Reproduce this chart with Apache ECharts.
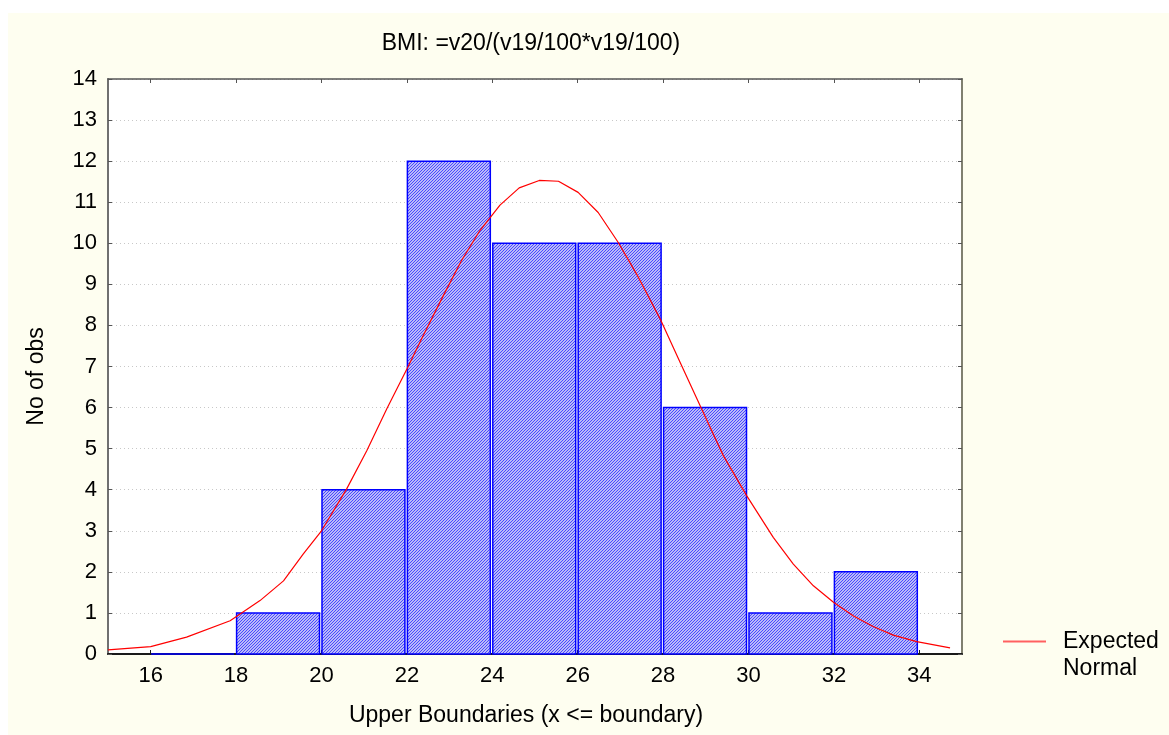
<!DOCTYPE html>
<html>
<head>
<meta charset="utf-8">
<script src="https://cdn.jsdelivr.net/npm/echarts@6/dist/echarts.min.js"></script>
<style>
html,body{margin:0;padding:0;background:#ffffff;width:1169px;height:735px;overflow:hidden;}
#chart{position:absolute;left:8px;top:13px;width:1161px;height:722px;}
</style>
</head>
<body>
<div id="chart"></div>
<script>
// ---- data ----
var titleText = 'BMI: =v20/(v19/100*v19/100)';
var xName = 'Upper Boundaries (x <= boundary)';
var yName = 'No of obs';
var legendName = 'Expected Normal';
var binLo = [16, 18, 20, 22, 24, 26, 28, 30, 32];
var binHi = [18, 20, 22, 24, 26, 28, 30, 32, 34];
var counts = [0, 1, 4, 12, 10, 10, 6, 1, 2];
var xTicks = [16, 18, 20, 22, 24, 26, 28, 30, 32, 34];
var curveX = [15.0, 16.0, 16.84, 17.86, 18.56, 19.11, 19.57, 20.0, 20.59, 21.06, 21.53, 22.0, 22.38, 22.85, 23.28, 23.71, 24.18, 24.63, 25.1, 25.55, 26.01, 26.48, 26.95, 27.38, 27.93, 28.40, 28.90, 29.41, 29.96, 30.58, 31.05, 31.52, 31.99, 32.45, 32.92, 33.39, 33.94, 34.72];
var curveY = [0.10, 0.18, 0.41, 0.81, 1.30, 1.78, 2.43, 3.00, 4.02, 4.95, 5.97, 6.94, 7.75, 8.72, 9.58, 10.31, 10.93, 11.35, 11.53, 11.51, 11.24, 10.75, 10.02, 9.25, 8.16, 7.10, 5.97, 4.83, 3.85, 2.84, 2.19, 1.66, 1.26, 0.93, 0.67, 0.46, 0.30, 0.15];

// diagonal hatch pattern (blue lines on light blue)
var pc = document.createElement('canvas');
pc.width = 3; pc.height = 3;
var pctx = pc.getContext('2d');
pctx.fillStyle = '#babaf8'; pctx.fillRect(0, 0, 3, 3);
pctx.fillStyle = '#4848ff';
for (var yy = 0; yy < 3; yy++) for (var xx = 0; xx < 3; xx++) if ((xx + yy) % 3 === 0) pctx.fillRect(xx, yy, 1, 1);
var hatch = {image: pc, repeat: 'repeat'};

var FONT = "'Liberation Sans', Arial, sans-serif";
var barData = binLo.map(function (lo, i) { return [lo, binHi[i], counts[i]]; });
var curveData = curveX.map(function (x, i) { return [x, curveY[i]]; });

var chart = echarts.init(document.getElementById('chart'));
chart.setOption({
  backgroundColor: '#fefef0',
  animation: false,
  textStyle: {fontFamily: FONT, color: '#000'},
  title: {
    text: titleText, left: 523, top: 19, textAlign: 'center', padding: 0,
    textStyle: {fontFamily: FONT, fontSize: 23, fontWeight: 'normal', color: '#000'}
  },
  legend: {
    data: [{name: legendName, icon: 'rect'}], left: 995, top: 588, padding: 0, orient: 'vertical',
    itemWidth: 43, itemHeight: 2,
    formatter: function () { return '\nExpected\nNormal'; },
    itemStyle: {color: '#ff6060', borderWidth: 0},
    textStyle: {fontFamily: FONT, fontSize: 23, color: '#000', lineHeight: 27, padding: [0, 0, 0, 12]}
  },
  grid: {left: 100, top: 66, right: 207, bottom: 81, show: true, backgroundColor: '#ffffff', borderWidth: 0},
  xAxis: [{
    type: 'value', min: 15, max: 35, position: 'bottom',
    name: xName, nameLocation: 'middle', nameGap: 50,
    nameTextStyle: {fontFamily: FONT, fontSize: 23, color: '#000', padding: [0, 18, 0, 0]},
    axisLine: {show: true, onZero: false, lineStyle: {color: '#1a1a1a', width: 2}},
    axisTick: {show: true, inside: true, length: 4, customValues: xTicks, lineStyle: {color: '#1a1a1a'}},
    axisLabel: {show: true, customValues: xTicks, margin: 11, fontFamily: FONT, fontSize: 22, color: '#000'},
    splitLine: {show: false}
  }, {
    type: 'value', min: 15, max: 35, position: 'top',
    axisLine: {show: true, onZero: false, lineStyle: {color: '#555', width: 1.5}},
    axisTick: {show: true, inside: true, length: 4, customValues: xTicks, lineStyle: {color: '#555'}},
    axisLabel: {show: false},
    splitLine: {show: false}
  }],
  yAxis: [{
    type: 'value', min: 0, max: 14, interval: 1, position: 'left',
    name: yName, nameLocation: 'middle', nameGap: 60,
    nameTextStyle: {fontFamily: FONT, fontSize: 23, color: '#000', padding: [0, 20, 0, 0]},
    axisLine: {show: true, onZero: false, lineStyle: {color: '#707070', width: 2}},
    axisTick: {show: true, inside: true, length: 4, lineStyle: {color: '#555'}},
    axisLabel: {show: true, margin: 11, fontFamily: FONT, fontSize: 22, color: '#000'},
    splitLine: {show: true, lineStyle: {color: '#c8c8c8', type: [1, 3], width: 1}}
  }, {
    type: 'value', min: 0, max: 14, interval: 1, position: 'right',
    axisLine: {show: true, onZero: false, lineStyle: {color: '#808070', width: 2}},
    axisTick: {show: true, inside: true, length: 4, lineStyle: {color: '#555'}},
    axisLabel: {show: false},
    splitLine: {show: false}
  }],
  series: [{
    type: 'custom', name: 'Histogram',
    xAxisIndex: 0, yAxisIndex: 0,
    encode: {x: [0, 1], y: 2},
    data: barData,
    renderItem: function (params, api) {
      var lo = api.value(0), hi = api.value(1), c = api.value(2);
      var p0 = api.coord([lo, c]);
      var p1 = api.coord([hi, 0]);
      return {
        type: 'rect',
        shape: {x: p0[0] + 0.5, y: p0[1], width: p1[0] - p0[0] - 2.5, height: p1[1] - p0[1]},
        style: {fill: hatch, stroke: '#0000ff', lineWidth: 1.5}
      };
    },
    z: 2
  }, {
    type: 'line', name: legendName,
    xAxisIndex: 0, yAxisIndex: 0,
    data: curveData, symbol: 'none', smooth: false,
    lineStyle: {color: '#ff0000', width: 1.2},
    itemStyle: {color: '#ff0000'},
    z: 3
  }]
});
</script>
</body>
</html>
